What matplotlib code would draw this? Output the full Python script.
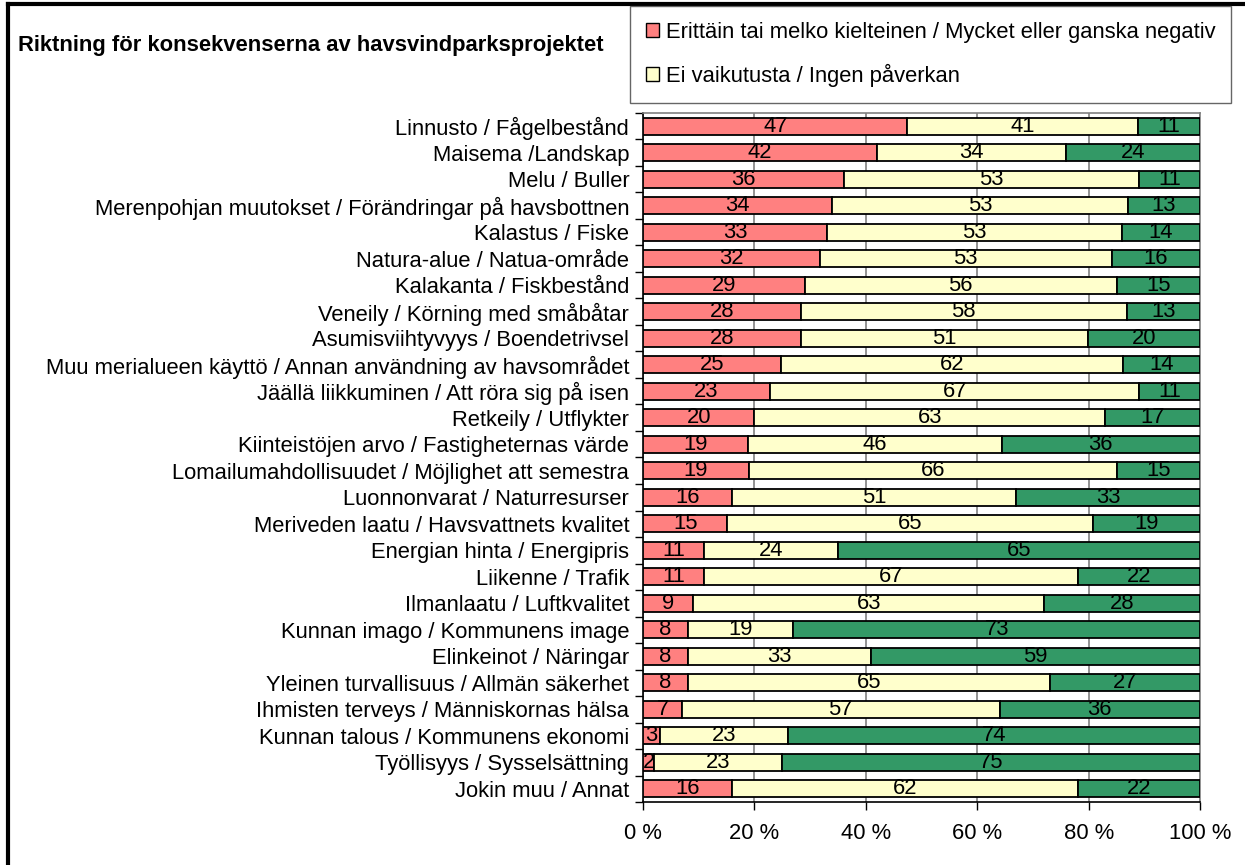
import numpy as np
import matplotlib
matplotlib.use("Agg")
import matplotlib.pyplot as plt
from matplotlib.lines import Line2D
from matplotlib.patches import Patch

plt.rcParams['font.family'] = ['Liberation Sans', 'DejaVu Sans']

# ---------- data ----------
categories = [
    "Linnusto / Fågelbestånd",
    "Maisema /Landskap",
    "Melu / Buller",
    "Merenpohjan muutokset / Förändringar på havsbottnen",
    "Kalastus / Fiske",
    "Natura-alue / Natua-område",
    "Kalakanta / Fiskbestånd",
    "Veneily / Körning med småbåtar",
    "Asumisviihtyvyys / Boendetrivsel",
    "Muu merialueen käyttö / Annan användning av havsområdet",
    "Jäällä liikkuminen / Att röra sig på isen",
    "Retkeily / Utflykter",
    "Kiinteistöjen arvo / Fastigheternas värde",
    "Lomailumahdollisuudet / Möjlighet att semestra",
    "Luonnonvarat / Naturresurser",
    "Meriveden laatu / Havsvattnets kvalitet",
    "Energian hinta / Energipris",
    "Liikenne / Trafik",
    "Ilmanlaatu / Luftkvalitet",
    "Kunnan imago / Kommunens image",
    "Elinkeinot / Näringar",
    "Yleinen turvallisuus / Allmän säkerhet",
    "Ihmisten terveys / Människornas hälsa",
    "Kunnan talous / Kommunens ekonomi",
    "Työllisyys / Sysselsättning",
    "Jokin muu / Annat",
]
negative = [47, 42, 36, 34, 33, 32, 29, 28, 28, 25, 23, 20, 19, 19, 16, 15, 11, 11, 9, 8, 8, 8, 7, 3, 2, 16]
no_effect = [41, 34, 53, 53, 53, 53, 56, 58, 51, 62, 67, 63, 46, 66, 51, 65, 24, 67, 63, 19, 33, 65, 57, 23, 23, 62]
positive = [11, 24, 11, 13, 14, 16, 15, 13, 20, 14, 11, 17, 36, 15, 33, 19, 65, 22, 28, 73, 59, 27, 36, 74, 75, 22]

series_labels = ["Erittäin tai melko kielteinen / Mycket eller ganska negativ",
                 "Ei vaikutusta / Ingen påverkan"]
colors = ["#FF8080", "#FFFFCC", "#339966"]
title = "Riktning för konsekvenserna av havsvindparksprojektet"
xticks = [0, 20, 40, 60, 80, 100]

FS = 15.8

# ---------- plot ----------
vals = np.array([negative, no_effect, positive], dtype=float)
shares = vals / vals.sum(axis=0) * 100   # 100 % stacked, like Excel
y = np.arange(len(categories))

fig = plt.figure(figsize=(12.45, 8.65), dpi=100)
ax = fig.add_axes([0.5165, 0.0728, 0.4474, 0.7966])

left = np.zeros(len(categories))
for i in range(3):
    bars = ax.barh(y, shares[i], left=left, height=0.64, color=colors[i],
                   edgecolor="black", linewidth=1.3, zorder=3)
    ax.bar_label(bars, labels=[str(int(v)) for v in vals[i]], label_type="center",
                 fontsize=FS, color="black")
    left += shares[i]

ax.set_xlim(0, 100)
ax.set_ylim(len(categories) - 0.5, -0.5)
ax.set_xticks(xticks)
ax.set_xticklabels([f"{t} %" for t in xticks], fontsize=FS)
ax.set_yticks(y)
ax.set_yticklabels(categories, fontsize=FS)
ax.tick_params(axis="y", length=0, pad=10)
ax.set_yticks(np.arange(-0.5, len(categories), 1), minor=True)
ax.tick_params(axis="y", which="minor", length=6, width=1, direction="out")
ax.tick_params(axis="x", length=6, width=1, direction="out", pad=9)
ax.xaxis.grid(True, color="#808080", linewidth=1.2, zorder=0)
ax.set_axisbelow(True)
for s in ["top", "right"]:
    ax.spines[s].set_color("#808080")
    ax.spines[s].set_linewidth(1.2)
for s in ["left", "bottom"]:
    ax.spines[s].set_color("black")
    ax.spines[s].set_linewidth(1.2)

fig.text(0.0145, 0.947, title, fontsize=FS, fontweight="bold", va="center", ha="left")

handles = [Patch(facecolor=colors[0], edgecolor="black"),
           Patch(facecolor=colors[1], edgecolor="black")]
leg = fig.legend(handles, series_labels, loc="upper left",
                 bbox_to_anchor=(0.506, 0.993), fontsize=FS, frameon=True,
                 fancybox=False, edgecolor="#404040", handlelength=0.6,
                 handleheight=0.6, handletextpad=0.3, labelspacing=0.95,
                 borderpad=0.72, borderaxespad=0)
leg.get_frame().set_linewidth(1.0)

# outer border (left and top)
fig.add_artist(Line2D([0.0062, 0.0062], [0, 0.995], color="black", linewidth=3,
                      transform=fig.transFigure))
fig.add_artist(Line2D([0.0062, 1.0], [0.995, 0.995], color="black", linewidth=3,
                      transform=fig.transFigure))

fig.savefig("out.png", dpi=100)
